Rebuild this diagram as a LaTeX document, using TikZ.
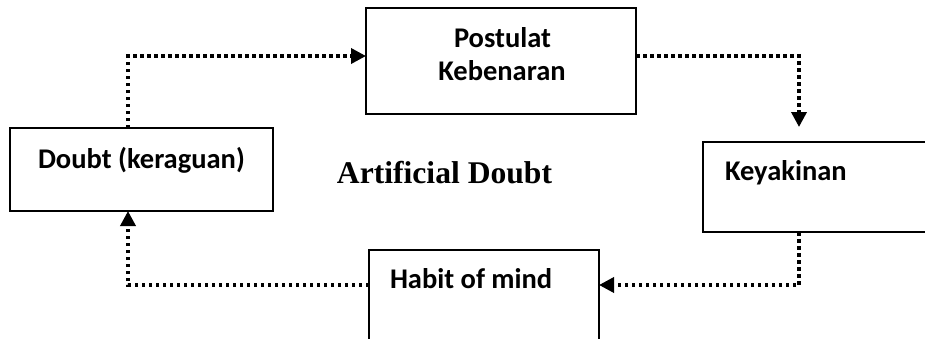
\documentclass[tikz,border=0pt]{standalone}
\usepackage{fontspec}
\setmainfont{Carlito}
\newfontfamily\titlefont{Liberation Serif}
\usetikzlibrary{arrows.meta}
\begin{document}
\begin{tikzpicture}[x=1pt,y=-1pt,
  boxnode/.style={draw=black,line width=1.6pt,rectangle,inner sep=0pt,outer sep=0pt},
  boxtext/.style={inner sep=0pt,outer sep=0pt,anchor=base west,font=\fontsize{28.5}{34}\selectfont\bfseries},
  dotline/.style={line width=3.5pt,dash pattern=on 3.5pt off 3.5pt,line cap=butt,
    -{Triangle[length=15pt,width=15pt]}}
]
\useasboundingbox (0,0) rectangle (925,338);
% boxes
\node[boxnode,minimum width=263pt,minimum height=83pt] (doubt) at (141.5,169.5) {};
\node[boxnode,minimum width=270pt,minimum height=106pt] (post) at (501,61) {};
\node[boxnode,minimum width=257pt,minimum height=90pt] (keyak) at (831.5,187) {};
\node[boxnode,minimum width=230pt,minimum height=130pt] (habit) at (484,315) {};
% texts
\node[boxtext] (tdoubt) at (38,168) {Doubt (keraguan)};
\node[boxtext,anchor=base] (tpostA) at (502.5,47) {Postulat};
\node[boxtext,anchor=base] (tpostB) at (502,80) {Kebenaran};
\node[boxtext] (tkeyak) at (725,180) {Keyakinan};
\node[boxtext] (thabit) at (390,288) {Habit of mind};
\node[inner sep=0pt,anchor=base,font=\titlefont\fontsize{31.6}{36}\selectfont\bfseries] (title) at (444.5,183) {Artificial Doubt};
% bend points
\coordinate (b1) at (128,56);
\coordinate (b2) at (799,56);
\coordinate (b3) at (799,285);
\coordinate (b4) at (128,285);
% connectors
\draw[dotline] (doubt.north -| b1) -- (b1) -- (post.west |- b1);
\draw[dotline,shorten >=15pt] (post.east |- b2) -- (b2) -- (keyak.north -| b2);
\draw[dotline] (keyak.south -| b3) -- (b3) -- (habit.east |- b3);
\draw[dotline] (habit.west |- b4) -- (b4) -- (doubt.south -| b4);
\end{tikzpicture}
\end{document}
